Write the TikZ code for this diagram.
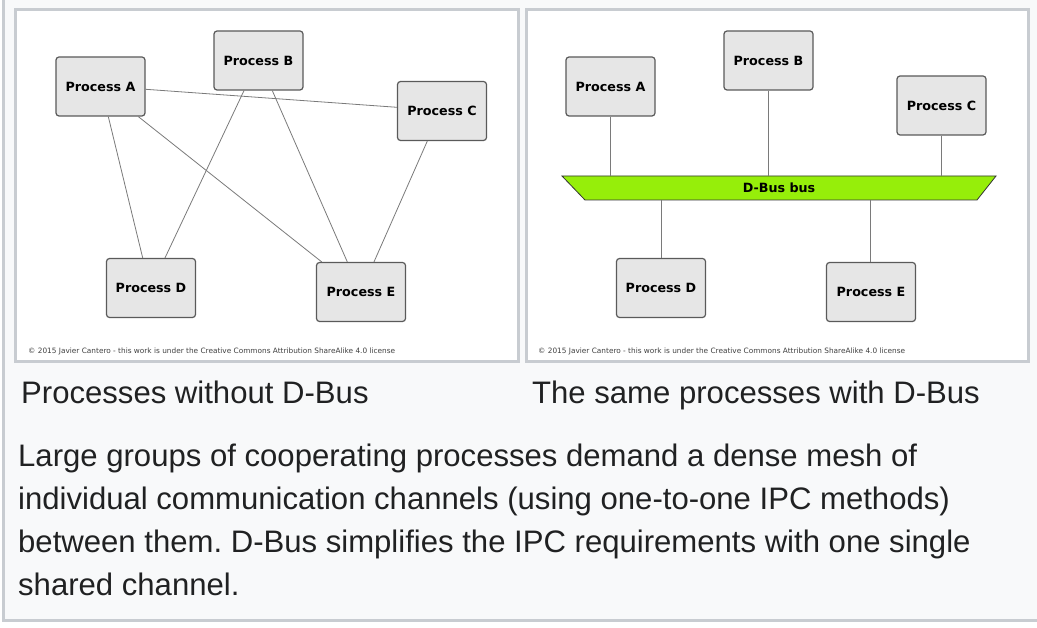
\documentclass[tikz,border=0pt]{standalone}
\usepackage{fontspec}
\usepackage{graphicx}
\setmainfont{Liberation Sans}
\newfontfamily\boxfont{DejaVu Sans}
\usetikzlibrary{calc}
\definecolor{pagebg}{HTML}{F8F9FA}
\definecolor{framegray}{HTML}{C8CCD1}
\definecolor{boxfill}{HTML}{E6E6E6}
\definecolor{boxline}{HTML}{5A5A5A}
\definecolor{linkgray}{HTML}{7A7A7A}
\definecolor{busgreen}{HTML}{96EE0A}
\definecolor{textdark}{HTML}{202122}
\frenchspacing
\begin{document}
\begin{tikzpicture}[x=1pt,y=-1pt,
  proc/.style={draw=boxline, fill=boxfill, line width=1.2pt, rounded corners=3pt,
    minimum width=89pt, minimum height=59pt, inner sep=0pt,
    font=\boxfont\bfseries\fontsize{12.7}{14}\selectfont},
  link/.style={draw=linkgray, line width=0.8pt},
  panel/.style={draw=framegray, line width=3pt, fill=white},
  caption/.style={anchor=base west, inner sep=0pt, text=textdark,
    font=\fontsize{31.1}{43}\selectfont\frenchspacing},
  credit/.style={anchor=base west, inner sep=0pt, text=black!75,
    font=\boxfont\fontsize{5}{6}\selectfont}]
\useasboundingbox (0,0) rectangle (1037,628);
\fill[white] (0,0) rectangle (1037,628);
\fill[pagebg] (2,0) rectangle (1037,622);
\draw[framegray, line width=3pt] (3.5,0) -- (3.5,620.5) -- (1037,620.5);
% panels
\draw[panel] (15.5,10) rectangle (518.5,362);
\draw[panel] (526.5,10) rectangle (1028,362);
% left panel
\node[proc] (A1) at (100.5,86.5) {Process A};
\node[proc] (B1) at (258.5,60.5) {Process B};
\node[proc] (C1) at (442,111) {Process C};
\node[proc] (D1) at (151,288) {Process D};
\node[proc] (E1) at (361,292) {Process E};
\draw[link] ([yshift=-2.8pt]A1.east) -- ([yshift=3.7pt]C1.west);
\draw[link] ([xshift=7.8pt]A1.south) -- ([xshift=-8.3pt]D1.north);
\draw[link] ([xshift=37.8pt]A1.south) -- ([xshift=-39.3pt]E1.north);
\draw[link] ([xshift=-14.5pt]B1.south) -- ([xshift=14pt]D1.north);
\draw[link] ([xshift=13.8pt]B1.south) -- ([xshift=-13.7pt]E1.north);
\draw[link] ([xshift=-14.7pt]C1.south) -- ([xshift=13pt]E1.north);
\node[credit] (cr1) at (28,354) {\resizebox{367pt}{!}{© 2015 Javier Cantero - this work is under the Creative Commons Attribution ShareAlike 4.0 license}};
% right panel
\draw[draw=black!80, line width=0.8pt, fill=busgreen]
  (562,176) -- (996,176) -- (977,200) -- (585,200) -- cycle;
\node[inner sep=0pt, minimum width=434pt, minimum height=24pt,
  font=\boxfont\bfseries\fontsize{12.7}{14}\selectfont] (bus) at (779,188) {D-Bus bus};
\node[proc] (A2) at (610.5,86.5) {Process A};
\node[proc] (B2) at (768.5,60.5) {Process B};
\node[proc] (C2) at (941.5,105.5) {Process C};
\node[proc] (D2) at (661,288) {Process D};
\node[proc] (E2) at (871,292) {Process E};
\draw[link] (A2.south) -- (A2.south |- bus.north);
\draw[link] (B2.south) -- (B2.south |- bus.north);
\draw[link] (C2.south) -- (C2.south |- bus.north);
\draw[link] (D2.north) -- (D2.north |- bus.south);
\draw[link] ([xshift=-1pt]E2.north) -- ([xshift=-1pt]E2.north |- bus.south);
\node[credit] (cr2) at (538,354) {\resizebox{367pt}{!}{© 2015 Javier Cantero - this work is under the Creative Commons Attribution ShareAlike 4.0 license}};
% captions
\node[caption] (cap1) at (21,404) {Processes without D-Bus};
\node[caption] (cap2) at (532,404) {The same processes with D-Bus};
\node[caption] (l1) at (18,466) {Large groups of cooperating processes demand a dense mesh of};
\node[caption] (l2) at (18,509) {individual communication channels (using one-to-one IPC methods)};
\node[caption] (l3) at (18,552) {between them. D-Bus simplifies the IPC requirements with one single};
\node[caption] (l4) at (18,595) {shared channel.};
\end{tikzpicture}
\end{document}
